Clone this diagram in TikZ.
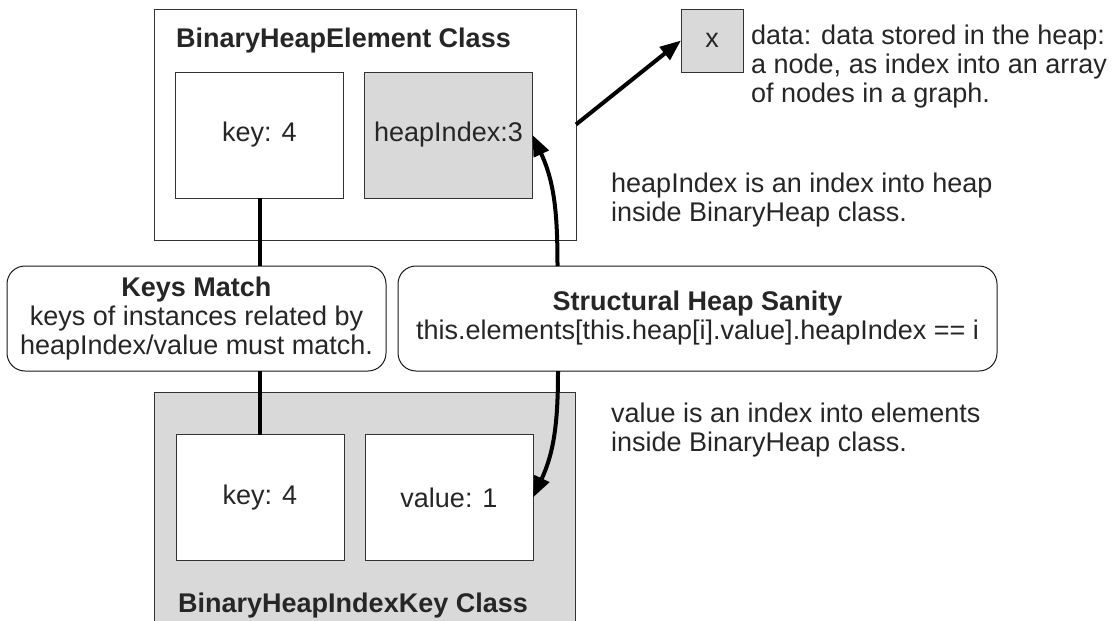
\documentclass[tikz,border=0pt]{standalone}
\usepackage{fontspec}
\setsansfont{Liberation Sans}
\usetikzlibrary{positioning, arrows.meta, calc}

\begin{document}
\begin{tikzpicture}[
        x=1pt, y=1pt,
        font=\sffamily\fontsize{27pt}{29pt}\selectfont,
        text=black!85,
        % Styles
        classbox/.style={draw=black!80, line width=1pt, fill=#1, inner sep=0pt, outer sep=0pt},
        field/.style={draw=black!80, line width=1pt, fill=#1, minimum width=168pt, minimum height=126pt, inner sep=0pt, outer sep=0pt},
        check/.style={draw=black!90, line width=1pt, fill=white, rounded corners=18pt, align=center, minimum height=105pt, inner sep=0pt, outer sep=0pt},
        note/.style={align=left, anchor=north west, inner sep=0pt},
        link/.style={line width=4pt, draw=black},
        arrow/.style={link, -{Triangle[length=21pt, width=16pt]}}
    ]

    \clip (0,0) rectangle (1114,-621);

    % BinaryHeapElement class
    \node[classbox=white, minimum width=422pt, minimum height=231pt] (elem) at (365,-124.5) {};
    \node[anchor=base west, inner sep=0pt] (elemtitle) at ([shift={(22,-38)}]elem.north west) {\textbf{BinaryHeapElement Class}};
    \node[field=white] (elemkey) at (259.5,-135) {key: 4};
    \node[field=black!15, right=21pt of elemkey] (heapidx) {heapIndex:3};

    % Stored data
    \node[field=black!15, minimum width=62pt, minimum height=63pt] (data) at (712,-40.5) {x};
    \node[note] (datanote) at (751,-25) {data: data stored in the heap:\\a node, as index into an array\\of nodes in a graph.};

    % Invariant checks
    \node[check, minimum width=379pt] (keysmatch) at (196.5,-318.5) {\textbf{Keys Match}\\keys of instances related by\\heapIndex/value must match.};
    \node[check, minimum width=599pt, right=12pt of keysmatch] (sanity) {\textbf{Structural Heap Sanity}\\this.elements[this.heap[i].value].heapIndex == i};

    % BinaryHeapIndexKey class
    \node[classbox=black!15, minimum width=421pt, minimum height=260pt] (idxkey) at (364.5,-522) {};
    \node[field=white] (idxkeykey) at (260,-497.5) {key: 4};
    \node[field=white, right=21pt of idxkeykey] (idxval) {value: 1};
    \node[anchor=base west, inner sep=0pt] (idxtitle) at ([shift={(24,-220)}]idxkey.north west) {\textbf{BinaryHeapIndexKey Class}};

    % Side notes
    \node[note] (heapidxnote) at (611,-173) {heapIndex is an index into heap\\inside BinaryHeap class.};
    \node[note] (valnote) at (611,-403) {value is an index into elements\\inside BinaryHeap class.};

    % Connectors
    \draw[link] (elemkey.south) -- (elemkey.south |- keysmatch.north);
    \draw[link] (keysmatch.south -| idxkeykey.north) -- (idxkeykey.north);
    \draw[arrow] (elem.east) -- (data.west);
    \draw[arrow] ($(heapidx.east |- sanity.north)+(25,0)$) to[out=90, in=-65] (heapidx.east);
    \draw[arrow] ($(idxval.east |- sanity.south)+(25,0)$) to[out=-90, in=65] (idxval.east);

\end{tikzpicture}
\end{document}
